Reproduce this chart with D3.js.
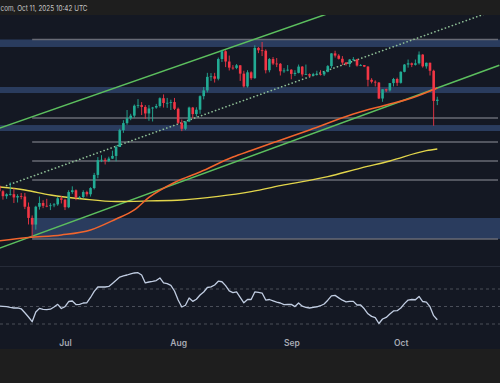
<!DOCTYPE html>
<html>
<head>
<meta charset="utf-8">
<script src="https://cdn.jsdelivr.net/npm/d3@7"></script>
<style>
  html, body { margin: 0; padding: 0; background: #1e1e1e; }
  svg { display: block; }
</style>
</head>
<body>
<svg id="chart"></svg>
<script>
// ETH daily candles, date / open / high / low / close
const candles = [
    ["2025-06-13", 2643, 2644, 2440, 2579], ["2025-06-14", 2579, 2592, 2486, 2524],
    ["2025-06-15", 2524, 2556, 2495, 2545], ["2025-06-16", 2545, 2680, 2530, 2546],
    ["2025-06-17", 2546, 2612, 2450, 2510], ["2025-06-18", 2510, 2545, 2455, 2525],
    ["2025-06-19", 2525, 2560, 2490, 2520], ["2025-06-20", 2520, 2560, 2385, 2410],
    ["2025-06-21", 2410, 2455, 2230, 2295], ["2025-06-22", 2295, 2320, 2111, 2229],
    ["2025-06-23", 2229, 2420, 2180, 2410], ["2025-06-24", 2410, 2520, 2380, 2450],
    ["2025-06-25", 2450, 2480, 2395, 2420], ["2025-06-26", 2420, 2495, 2405, 2418],
    ["2025-06-27", 2418, 2448, 2375, 2425], ["2025-06-28", 2425, 2450, 2405, 2435],
    ["2025-06-29", 2435, 2515, 2420, 2500], ["2025-06-30", 2500, 2525, 2445, 2485],
    ["2025-07-01", 2485, 2495, 2375, 2405], ["2025-07-02", 2405, 2590, 2395, 2570],
    ["2025-07-03", 2570, 2635, 2550, 2590], ["2025-07-04", 2590, 2600, 2480, 2510],
    ["2025-07-05", 2510, 2525, 2495, 2515], ["2025-07-06", 2515, 2590, 2500, 2570],
    ["2025-07-07", 2570, 2585, 2520, 2545], ["2025-07-08", 2545, 2625, 2520, 2615],
    ["2025-07-09", 2615, 2795, 2600, 2770], ["2025-07-10", 2770, 2995, 2730, 2955],
    ["2025-07-11", 2955, 3020, 2930, 2960], ["2025-07-12", 2960, 2985, 2900, 2945],
    ["2025-07-13", 2945, 3000, 2930, 2975], ["2025-07-14", 2975, 3080, 2970, 3010],
    ["2025-07-15", 3010, 3155, 2940, 3130], ["2025-07-16", 3130, 3390, 3130, 3370],
    ["2025-07-17", 3370, 3520, 3330, 3475], ["2025-07-18", 3475, 3680, 3450, 3550],
    ["2025-07-19", 3550, 3620, 3520, 3590], ["2025-07-20", 3590, 3770, 3560, 3750],
    ["2025-07-21", 3750, 3860, 3710, 3760], ["2025-07-22", 3760, 3810, 3600, 3730],
    ["2025-07-23", 3730, 3760, 3540, 3625], ["2025-07-24", 3625, 3760, 3510, 3705],
    ["2025-07-25", 3705, 3730, 3500, 3720], ["2025-07-26", 3720, 3780, 3700, 3745],
    ["2025-07-27", 3745, 3890, 3720, 3875], ["2025-07-28", 3875, 3940, 3720, 3795],
    ["2025-07-29", 3795, 3880, 3715, 3798], ["2025-07-30", 3798, 3850, 3680, 3810],
    ["2025-07-31", 3810, 3880, 3680, 3700], ["2025-08-01", 3700, 3720, 3460, 3480],
    ["2025-08-02", 3480, 3530, 3355, 3390], ["2025-08-03", 3390, 3500, 3370, 3500],
    ["2025-08-04", 3500, 3735, 3490, 3720], ["2025-08-05", 3720, 3730, 3550, 3615],
    ["2025-08-06", 3615, 3725, 3575, 3685], ["2025-08-07", 3685, 3925, 3620, 3910],
    ["2025-08-08", 3910, 4070, 3855, 4010], ["2025-08-09", 4010, 4330, 3975, 4255],
    ["2025-08-10", 4255, 4325, 4180, 4265], ["2025-08-11", 4265, 4330, 4150, 4220],
    ["2025-08-12", 4220, 4630, 4190, 4600], ["2025-08-13", 4600, 4790, 4540, 4760],
    ["2025-08-14", 4760, 4780, 4440, 4550], ["2025-08-15", 4550, 4670, 4375, 4430],
    ["2025-08-16", 4430, 4480, 4390, 4425], ["2025-08-17", 4425, 4500, 4400, 4475],
    ["2025-08-18", 4475, 4480, 4180, 4315], ["2025-08-19", 4315, 4370, 4060, 4080],
    ["2025-08-20", 4080, 4380, 4060, 4340], ["2025-08-21", 4340, 4360, 4200, 4230],
    ["2025-08-22", 4230, 4885, 4220, 4830], ["2025-08-23", 4830, 4850, 4720, 4780],
    ["2025-08-24", 4780, 4956, 4660, 4770], ["2025-08-25", 4770, 4800, 4320, 4380],
    ["2025-08-26", 4380, 4620, 4340, 4600], ["2025-08-27", 4600, 4640, 4480, 4510],
    ["2025-08-28", 4510, 4620, 4440, 4505], ["2025-08-29", 4505, 4520, 4280, 4360],
    ["2025-08-30", 4360, 4420, 4330, 4375], ["2025-08-31", 4375, 4480, 4360, 4390],
    ["2025-09-01", 4390, 4400, 4210, 4310], ["2025-09-02", 4310, 4380, 4270, 4330],
    ["2025-09-03", 4330, 4490, 4320, 4450], ["2025-09-04", 4450, 4460, 4260, 4300],
    ["2025-09-05", 4300, 4490, 4290, 4305], ["2025-09-06", 4305, 4320, 4250, 4275],
    ["2025-09-07", 4275, 4330, 4270, 4305], ["2025-09-08", 4305, 4370, 4280, 4310],
    ["2025-09-09", 4310, 4380, 4280, 4300], ["2025-09-10", 4300, 4370, 4270, 4350],
    ["2025-09-11", 4350, 4480, 4340, 4460], ["2025-09-12", 4460, 4720, 4420, 4715],
    ["2025-09-13", 4715, 4770, 4630, 4670], ["2025-09-14", 4670, 4700, 4590, 4605],
    ["2025-09-15", 4605, 4660, 4480, 4530], ["2025-09-16", 4530, 4540, 4470, 4500],
    ["2025-09-17", 4500, 4600, 4440, 4590], ["2025-09-18", 4590, 4640, 4560, 4595],
    ["2025-09-19", 4595, 4600, 4450, 4470], ["2025-09-20", 4470, 4500, 4460, 4480],
    ["2025-09-21", 4480, 4480, 4440, 4450], ["2025-09-22", 4450, 4460, 4080, 4200],
    ["2025-09-23", 4200, 4230, 4135, 4165], ["2025-09-24", 4165, 4190, 4080, 4150],
    ["2025-09-25", 4150, 4160, 3860, 3870], ["2025-09-26", 3870, 4030, 3815, 4030],
    ["2025-09-27", 4030, 4040, 3980, 4010], ["2025-09-28", 4010, 4140, 3990, 4140],
    ["2025-09-29", 4140, 4235, 4080, 4215], ["2025-09-30", 4215, 4240, 4090, 4145],
    ["2025-10-01", 4145, 4360, 4130, 4350], ["2025-10-02", 4350, 4500, 4340, 4490],
    ["2025-10-03", 4490, 4590, 4430, 4515], ["2025-10-04", 4515, 4530, 4440, 4485],
    ["2025-10-05", 4485, 4590, 4470, 4515], ["2025-10-06", 4515, 4755, 4490, 4690],
    ["2025-10-07", 4690, 4700, 4430, 4455], ["2025-10-08", 4455, 4530, 4410, 4525],
    ["2025-10-09", 4525, 4530, 4280, 4370], ["2025-10-10", 4370, 4390, 3435, 3830],
    ["2025-10-11", 3830, 3900, 3760, 3850]
];

// RSI(14), one value per candle above
const rsiValues = [
    50.6, 50.2, 49.8, 49.0, 48.3, 48.5, 47.4, 42.8, 38.0, 32.6, 43.7, 47.9, 46.8, 46.5, 46.9, 49.4, 52.5, 47.7,
    49.8, 55.7, 56.3, 52.2, 52.5, 54.0, 54.3, 60.3, 67.3, 72.3, 72.3, 72.3, 72.9, 76.4, 79.9, 83.6, 84.9, 86.0,
    87.4, 88.3, 88.6, 86.0, 76.9, 78.0, 78.6, 79.7, 82.6, 76.9, 76.2, 74.2, 67.7, 57.4, 49.4, 51.4, 59.7, 55.9,
    58.3, 63.1, 66.6, 71.7, 72.4, 74.6, 78.9, 78.3, 73.8, 67.8, 65.9, 66.8, 60.5, 54.2, 58.0, 58.0, 66.6, 66.1,
    65.4, 57.4, 58.0, 56.5, 55.1, 54.0, 52.2, 52.3, 52.4, 49.9, 54.0, 50.3, 49.1, 48.3, 49.0, 49.7, 50.9, 52.9,
    57.2, 62.1, 62.7, 59.9, 57.2, 55.3, 55.9, 55.9, 51.7, 51.7, 47.4, 41.7, 38.7, 37.2, 30.6, 35.7, 37.5, 41.4,
    44.9, 45.2, 48.3, 53.3, 57.4, 58.0, 57.7, 61.5, 55.7, 55.1, 49.8, 39.5, 34.8
];
const rsiGuides = [70, 50, 30];

// moving averages (orange = 100D, yellow = 200D)
const ma100Dates = ["2025-06-13", "2025-06-21", "2025-06-30", "2025-07-08", "2025-07-15", "2025-07-20",
    "2025-07-24", "2025-07-31", "2025-08-07", "2025-08-16", "2025-08-21", "2025-08-28", "2025-09-06",
    "2025-09-18", "2025-09-27", "2025-10-04", "2025-10-11"];
const ma100Values = [2075, 2106, 2130, 2177, 2284, 2376, 2510, 2680, 2806, 2996, 3083, 3207, 3372,
    3616, 3762, 3879, 4053];
const ma200Dates = ["2025-06-13", "2025-06-20", "2025-06-27", "2025-07-06", "2025-07-15", "2025-07-24",
    "2025-08-02", "2025-08-12", "2025-08-21", "2025-08-30", "2025-09-11", "2025-09-20", "2025-09-28",
    "2025-10-08", "2025-10-11"];
const ma200Values = [2628, 2593, 2537, 2493, 2466, 2472, 2482, 2521, 2574, 2651, 2749, 2855, 2944,
    3080, 3103];

// drawn support / resistance
const zones = [[4849, 5011], [3964, 4070], [3357, 3446], [2093, 2294]];
const zoneFrom = ["2025-06-01", "2025-06-01", "2025-06-01", "2025-06-22"];
const levels = [5011, 3553, 3200, 2944, 2709, 2093];
const levelStart = "2025-06-22";

// channel: [start date, start price, end date, end price]
const channelUpper = ["2025-06-13", 3399, "2025-10-28", 7288];
const channelLower = ["2025-06-13", 2009, "2025-10-28", 4478];
const channelMid = ["2025-06-15", 2644, "2025-10-28", 5734];

const monthTicks = ["2025-07-01", "2025-08-01", "2025-09-01", "2025-10-01"];
const headerText = "com, Oct 11, 2025 10:42 UTC";

function drawChart() {
    const width = 500, height = 383;
    const parse = d3.utcParse("%Y-%m-%d");
    const svg = d3.select("#chart").attr("width", width).attr("height", height);

    const x = d3.scaleUtc().domain([parse("2025-07-01"), parse("2025-10-01")]).range([65, 400.8]);
    const y = d3.scaleLog().domain([2111, 4956]).range([237, 42]);
    const yRsi = d3.scaleLinear().domain([0, 100]).range([350.25, 262.75]);

    const bodyW = 2.6;
    const up = "#22ab94", down = "#f23645";

    // panel backgrounds
    svg.append("rect").attr("width", width).attr("height", height).attr("fill", "#1e1e1e");
    svg.append("rect").attr("x", 0).attr("y", 15).attr("width", width).attr("height", 334).attr("fill", "#141823");

    svg.append("clipPath").attr("id", "main-clip")
        .append("rect").attr("x", 0).attr("y", 15).attr("width", width).attr("height", 251);

    const main = svg.append("g").attr("clip-path", "url(#main-clip)");

    main.selectAll(".zone")
        .data(zones)
        .enter()
        .append("rect")
        .attr("class", "zone")
        .attr("x", function (d, i) { return Math.max(0, x(parse(zoneFrom[i]))); })
        .attr("width", function (d, i) { return width - Math.max(0, x(parse(zoneFrom[i]))); })
        .attr("y", function (d) { return y(d[1]); })
        .attr("height", function (d) { return y(d[0]) - y(d[1]); })
        .attr("fill", "#2a3c5e");

    main.selectAll(".level")
        .data(levels)
        .enter()
        .append("line")
        .attr("class", "level")
        .attr("x1", x(parse(levelStart)))
        .attr("x2", width - 2)
        .attr("y1", function (d) { return y(d); })
        .attr("y2", function (d) { return y(d); })
        .attr("stroke", "#676a75")
        .attr("stroke-width", 1.5);

    const trend = function (t) {
        return main.append("line")
            .attr("x1", x(parse(t[0]))).attr("y1", y(t[1]))
            .attr("x2", x(parse(t[2]))).attr("y2", y(t[3]));
    };
    trend(channelUpper).attr("stroke", "#5cbf5e").attr("stroke-width", 1.5);
    trend(channelLower).attr("stroke", "#5cbf5e").attr("stroke-width", 1.5);
    trend(channelMid).attr("stroke", "#8fbf96").attr("stroke-width", 1.7)
        .attr("stroke-dasharray", "0.1 3.6").attr("stroke-linecap", "round");

    const maLine = function (dates, values, color, w) {
        const pts = dates.map(function (d, i) { return [x(parse(d)), y(values[i])]; });
        main.append("path")
            .attr("d", d3.line().curve(d3.curveMonotoneX)(pts))
            .attr("fill", "none")
            .attr("stroke", color)
            .attr("stroke-width", w);
    };
    maLine(ma200Dates, ma200Values, "#e2d54b", 1.3);
    maLine(ma100Dates, ma100Values, "#f2652d", 1.5);

    const bars = main.append("g").attr("class", "candles");
    const c = bars.selectAll("g").data(candles).enter().append("g");
    c.append("line")
        .attr("x1", function (d) { return x(parse(d[0])); })
        .attr("x2", function (d) { return x(parse(d[0])); })
        .attr("y1", function (d) { return y(d[2]); })
        .attr("y2", function (d) { return y(d[3]); })
        .attr("stroke", function (d) { return d[4] >= d[1] ? up : down; })
        .attr("stroke-width", 0.9);
    c.append("rect")
        .attr("x", function (d) { return x(parse(d[0])) - bodyW / 2; })
        .attr("width", bodyW)
        .attr("y", function (d) { return y(Math.max(d[1], d[4])); })
        .attr("height", function (d) { return Math.max(0.8, Math.abs(y(d[1]) - y(d[4]))); })
        .attr("fill", function (d) { return d[4] >= d[1] ? up : down; });

    // RSI pane
    svg.append("line")
        .attr("x1", 0).attr("x2", width)
        .attr("y1", 266.5).attr("y2", 266.5)
        .attr("stroke", "#262b38").attr("stroke-width", 1);

    svg.selectAll(".rsi-guide")
        .data(rsiGuides)
        .enter()
        .append("line")
        .attr("class", "rsi-guide")
        .attr("x1", 0).attr("x2", width)
        .attr("y1", function (d) { return yRsi(d); })
        .attr("y2", function (d) { return yRsi(d); })
        .attr("stroke", "#4a4e59")
        .attr("stroke-width", 1)
        .attr("stroke-dasharray", "3 3");

    svg.append("path")
        .datum(candles.map(function (d, i) { return [x(parse(d[0])), yRsi(rsiValues[i])]; }))
        .attr("d", d3.line())
        .attr("fill", "none")
        .attr("stroke", "#c1cde2")
        .attr("stroke-width", 1.3)
        .attr("stroke-linejoin", "round");

    const xAxis = d3.axisBottom(x)
        .tickValues(monthTicks.map(parse))
        .tickFormat(d3.utcFormat("%b"))
        .tickSize(0)
        .tickPadding(0);

    svg.append("g")
        .attr("transform", "translate(0,339.5)")
        .call(xAxis)
        .call(function (g) { g.select(".domain").remove(); })
        .call(function (g) {
            g.selectAll("text")
                .attr("fill", "#a7aab3")
                .attr("font-family", "Inter, 'Noto Sans', sans-serif")
                .attr("font-size", "8.5px")
                .attr("font-weight", 600);
        });

    // header strip (watermark cut off at the left edge)
    svg.append("rect").attr("x", 0).attr("y", 0).attr("width", width).attr("height", 15).attr("fill", "#1e1e1e");
    svg.append("text")
        .attr("x", 0.5)
        .attr("y", 10.5)
        .attr("fill", "#c4c4c4")
        .attr("font-family", "Inter, 'Noto Sans', sans-serif")
        .attr("font-size", "7.6px")
        .attr("textLength", 87)
        .attr("lengthAdjust", "spacingAndGlyphs")
        .text(headerText);
}

drawChart();
</script>
</body>
</html>
